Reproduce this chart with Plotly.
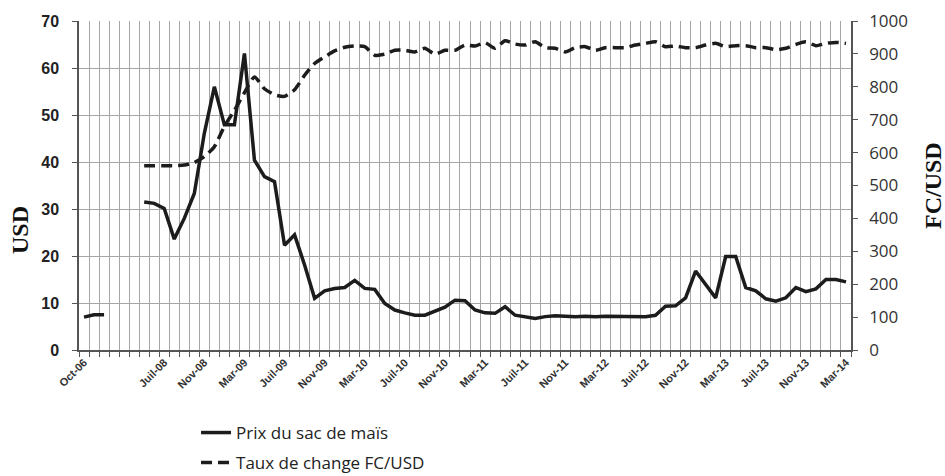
import plotly.graph_objects as go

# ---------------- data ----------------
MONTH_NAMES = ["Janv", "Févr", "Mar", "Avr", "Mai", "Juin",
               "Juil", "Août", "Sept", "Oct", "Nov", "Déc"]

# categories: Oct-06..Dec-06, three blank slots, then May-08 .. Mar-14
categories = ["Oct-06", "Nov-06", "Déc-06", "", "", ""]
y, m = 2008, 5
while (y, m) <= (2014, 3):
    categories.append(f"{MONTH_NAMES[m-1]}-{str(y)[2:]}")
    m += 1
    if m > 12:
        m, y = 1, y + 1

# price of a bag of maize (USD)
prix_mais = [7.0, 7.5, 7.5, None, None, None,
             31.5, 31.2, 30.1, 23.6, 28.0, 33.3, 46.1, 56.0, 47.9, 47.9, 63.1, 40.4, 36.9, 35.8,
             22.3, 24.5, 18.1, 11.0, 12.6, 13.1, 13.3, 14.8, 13.1, 12.9, 9.9, 8.5, 7.9, 7.4, 7.4,
             8.2, 9.1, 10.6, 10.5,
             8.5, 7.9, 7.8, 9.2, 7.4, 7.1, 6.7, 7.1, 7.3, 7.2, 7.1, 7.2, 7.1, 7.2, 7.2, 7.2,
             7.1, 7.1, 7.4, 9.3,
             9.4, 11.1, 16.8, 14.0, 11.1, 19.9, 19.9, 13.3, 12.6, 10.9, 10.4, 11.1, 13.3, 12.4,
             13.0, 15.0, 15.0, 14.5]

# exchange rate FC/USD
taux_change = [None, None, None, None, None, None,
               560, 560, 560, 560, 562, 570, 588, 618, 680, 728, 782, 830, 794, 776,
               771, 791, 835, 871, 891, 909, 920, 924, 922, 896, 899, 911, 911, 906, 917,
               899, 911, 911, 927,
               924, 934, 917, 940, 930, 927, 937, 919, 917, 906, 919, 922, 911, 919, 919, 919,
               927, 932, 937, 922,
               924, 919, 919, 927, 932, 922, 925, 925, 919, 919, 913, 917, 929, 937, 925, 932,
               935, 932]

tick_positions = list(range(0, len(categories), 4))
tick_labels = [categories[i] for i in tick_positions]

series_names = ["Prix du sac de maïs", "Taux de change FC/USD"]
axis_titles = ["USD", "FC/USD"]

x = list(range(len(categories)))

# ---------------- figure ----------------
fig = go.Figure()
fig.add_trace(go.Scatter(
    x=x, y=prix_mais, name=series_names[0], mode="lines",
    line=dict(color="#1c1c1c", width=3.5), connectgaps=False,
    yaxis="y", legend="legend"))
fig.add_trace(go.Scatter(
    x=x, y=taux_change, name=series_names[1], mode="lines",
    line=dict(color="#1c1c1c", width=3.5, dash="11px,6px", shape="spline", smoothing=0.6),
    connectgaps=False, yaxis="y2", legend="legend2"))

grid_col = "#a6a6a6"
axis_col = "#555555"
leg_font = dict(family="Open Sans", size=17, color="#222")

PL, PR, PT, PB = 79, 851, 21, 350
pw, ph = PR - PL, PB - PT

fig.update_layout(
    width=945, height=476,
    margin=dict(l=PL, r=945 - PR, t=PT, b=476 - PB, autoexpand=False),
    plot_bgcolor="white", paper_bgcolor="white",
    showlegend=True,
    legend=dict(x=0.1516, y=-(415 - PB) / ph, xanchor="left", yanchor="top",
                font=leg_font, bgcolor="rgba(0,0,0,0)"),
    legend2=dict(x=0.1516, y=-(445 - PB) / ph, xanchor="left", yanchor="top",
                 font=leg_font, bgcolor="rgba(0,0,0,0)"),
    xaxis=dict(
        range=[-0.5, len(categories) - 0.5], automargin=False,
        tickmode="array", tickvals=tick_positions, ticktext=tick_labels,
        tickangle=-45, ticks="", showgrid=False, zeroline=False,
        tickfont=dict(family="Liberation Sans", size=11, color="#333", weight="bold"),
        showline=True, linecolor=axis_col, linewidth=1.5,
        minor=dict(tickmode="linear", tick0=-0.5, dtick=1, ticks="outside",
                   ticklen=5, tickcolor=axis_col, showgrid=True,
                   gridcolor=grid_col, gridwidth=1),
    ),
    yaxis=dict(
        range=[0, 70], dtick=10, showgrid=True, gridcolor=grid_col, gridwidth=1,
        automargin=False, zeroline=False, ticks="outside", ticklen=5, tickcolor=axis_col,
        showline=True, linecolor=axis_col, linewidth=1.5, ticklabelstandoff=10,
        tickfont=dict(family="Liberation Sans", size=16, color="#222", weight="bold"),
    ),
    yaxis2=dict(
        range=[0, 1000], dtick=100, overlaying="y", side="right", automargin=False,
        showgrid=False, zeroline=False, ticks="outside", ticklen=5, tickcolor=axis_col,
        showline=True, linecolor=axis_col, linewidth=1.5, ticklabelstandoff=8,
        tickfont=dict(family="Open Sans", size=17, color="#333"),
    ),
    annotations=[
        dict(text=axis_titles[0], xref="paper", yref="paper",
             x=-(PL - 20) / pw, y=(PB - 230) / ph, textangle=-90,
             showarrow=False, xanchor="center", yanchor="middle",
             font=dict(family="Liberation Serif", size=24, color="#111", weight="bold")),
        dict(text=axis_titles[1], xref="paper", yref="paper",
             x=1 + (933 - PR) / pw, y=(PB - 186) / ph, textangle=-90,
             showarrow=False, xanchor="center", yanchor="middle",
             font=dict(family="Liberation Serif", size=24, color="#111", weight="bold")),
    ],
)

fig.write_html("out.html",
               config={"displayModeBar": False},
               post_script="document.body.style.margin='0';document.body.style.overflow='hidden';")
